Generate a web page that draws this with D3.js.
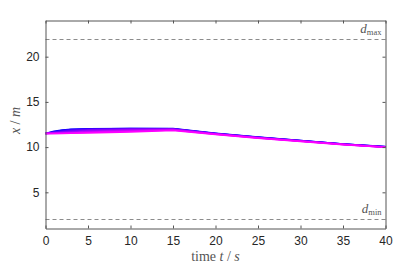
<!DOCTYPE html>
<html>
<head>
<meta charset="utf-8">
<script src="https://cdn.jsdelivr.net/npm/d3@7"></script>
<style>
  body { margin: 0; background: #fff; }
  svg { display: block; }
</style>
</head>
<body>
<script>
var width = 415;
var height = 266;
var margin = { top: 20.5, right: 29.5, bottom: 37.5, left: 45.5 };

// time samples (s)
var times = [0, 1, 2, 3, 5, 10, 15, 20, 25, 30, 35, 40];
// trajectories, blue -> magenta
var traj1 = [11.5, 11.75, 11.9, 11.98, 12.03, 12.05, 12.04, 11.52, 11.1, 10.73, 10.35, 10.05];
var traj2 = [11.5, 11.7, 11.85, 11.94, 12.01, 12.04, 12.03, 11.51, 11.09, 10.72, 10.34, 10.04];
var traj3 = [11.5, 11.65, 11.78, 11.88, 11.97, 12.02, 12.01, 11.5, 11.08, 10.71, 10.33, 10.03];
var traj4 = [11.5, 11.6, 11.7, 11.8, 11.92, 11.99, 11.99, 11.48, 11.06, 10.69, 10.32, 10.02];
var traj5 = [11.5, 11.56, 11.63, 11.7, 11.83, 11.94, 11.97, 11.47, 11.05, 10.68, 10.31, 10.01];
var traj6 = [11.5, 11.53, 11.57, 11.62, 11.73, 11.86, 11.93, 11.45, 11.03, 10.67, 10.3, 10.0];
var traj7 = [11.5, 11.51, 11.53, 11.56, 11.64, 11.77, 11.89, 11.43, 11.01, 10.65, 10.28, 9.99];
var traj8 = [11.5, 11.5, 11.51, 11.53, 11.57, 11.68, 11.84, 11.41, 10.99, 10.63, 10.27, 9.98];
var trajectories = [traj1, traj2, traj3, traj4, traj5, traj6, traj7, traj8];

var xTicks = [0, 5, 10, 15, 20, 25, 30, 35, 40];
var yTicks = [5, 10, 15, 20];
var dMax = 22;
var dMin = 2;

var svg = d3.select("body")
    .append("svg")
    .attr("width", width)
    .attr("height", height);

var x = d3.scaleLinear().domain([0, 40]).range([margin.left, width - margin.right]);
var y = d3.scaleLinear().domain([1, 24]).range([height - margin.bottom, margin.top]);

var colour = d3.scaleLinear()
    .domain([0, trajectories.length - 1])
    .range(["#0000ff", "#ff00ff"]);

// bounds lines
[dMax, dMin].forEach(function (d) {
    svg.append("line")
        .attr("x1", x(0)).attr("x2", x(40))
        .attr("y1", Math.round(y(d)) + 0.5).attr("y2", Math.round(y(d)) + 0.5)
        .style("stroke", "#8c8c8c")
        .style("stroke-width", 1)
        .style("stroke-dasharray", "4,3");
});

var line = d3.line()
    .x(function (d, i) { return x(times[i]); })
    .y(function (d) { return y(d); });

svg.append("g")
    .selectAll("path")
    .data(trajectories)
    .enter().append("path")
    .attr("d", line)
    .style("fill", "none")
    .style("stroke", function (d, i) { return colour(i); })
    .style("stroke-width", 1.6)
    .style("stroke-linejoin", "round");

// axes, ticks inward on all sides
var axisColour = "#555";
var axisBottomG = svg.append("g")
    .attr("transform", "translate(0," + (height - margin.bottom) + ")")
    .call(d3.axisBottom(x).tickValues(xTicks).tickSizeInner(-3).tickSizeOuter(0).tickPadding(8));
var axisTopG = svg.append("g")
    .attr("transform", "translate(0," + margin.top + ")")
    .call(d3.axisTop(x).tickValues(xTicks).tickSizeInner(-3).tickSizeOuter(0).tickFormat(""));
var axisLeftG = svg.append("g")
    .attr("transform", "translate(" + margin.left + ",0)")
    .call(d3.axisLeft(y).tickValues(yTicks).tickSizeInner(-3).tickSizeOuter(0).tickPadding(6));
var axisRightG = svg.append("g")
    .attr("transform", "translate(" + (width - margin.right) + ",0)")
    .call(d3.axisRight(y).tickValues(yTicks).tickSizeInner(-3).tickSizeOuter(0).tickFormat(""));

[axisBottomG, axisTopG, axisLeftG, axisRightG].forEach(function (g) {
    g.selectAll(".domain").style("stroke", axisColour);
    g.selectAll(".tick line").style("stroke", axisColour);
    g.selectAll("text")
        .style("font-family", "'Liberation Sans', Arial, sans-serif")
        .style("font-size", "12px")
        .style("fill", "#262626");
});

// axis labels
var serif = "'Liberation Serif', 'DejaVu Serif', serif";
var xl = svg.append("text")
    .attr("x", (x(0) + x(40)) / 2)
    .attr("y", 261)
    .attr("text-anchor", "middle")
    .style("font-family", serif)
    .style("font-size", "14px")
    .style("fill", "#555");
xl.append("tspan").text("time ");
xl.append("tspan").style("font-style", "italic").text("t");
xl.append("tspan").text(" / ");
xl.append("tspan").style("font-style", "italic").text("s");

var yl = svg.append("text")
    .attr("transform", "translate(20," + ((y(1) + y(24)) / 2 - 4) + ") rotate(-90)")
    .attr("text-anchor", "middle")
    .style("font-family", serif)
    .style("font-size", "14px")
    .style("fill", "#555");
yl.append("tspan").style("font-style", "italic").text("x");
yl.append("tspan").text(" / ");
yl.append("tspan").style("font-style", "italic").text("m");

// bound labels
[[dMax, "max"], [dMin, "min"]].forEach(function (b) {
    var t = svg.append("text")
        .attr("x", x(40) - 4)
        .attr("y", y(b[0]) - 6)
        .attr("text-anchor", "end")
        .style("font-family", serif)
        .style("font-size", "13px")
        .style("fill", "#555");
    t.append("tspan").style("font-style", "italic").text("d");
    t.append("tspan").attr("dy", 2).style("font-size", "8.5px").text(b[1]);
});
</script>
</body>
</html>
